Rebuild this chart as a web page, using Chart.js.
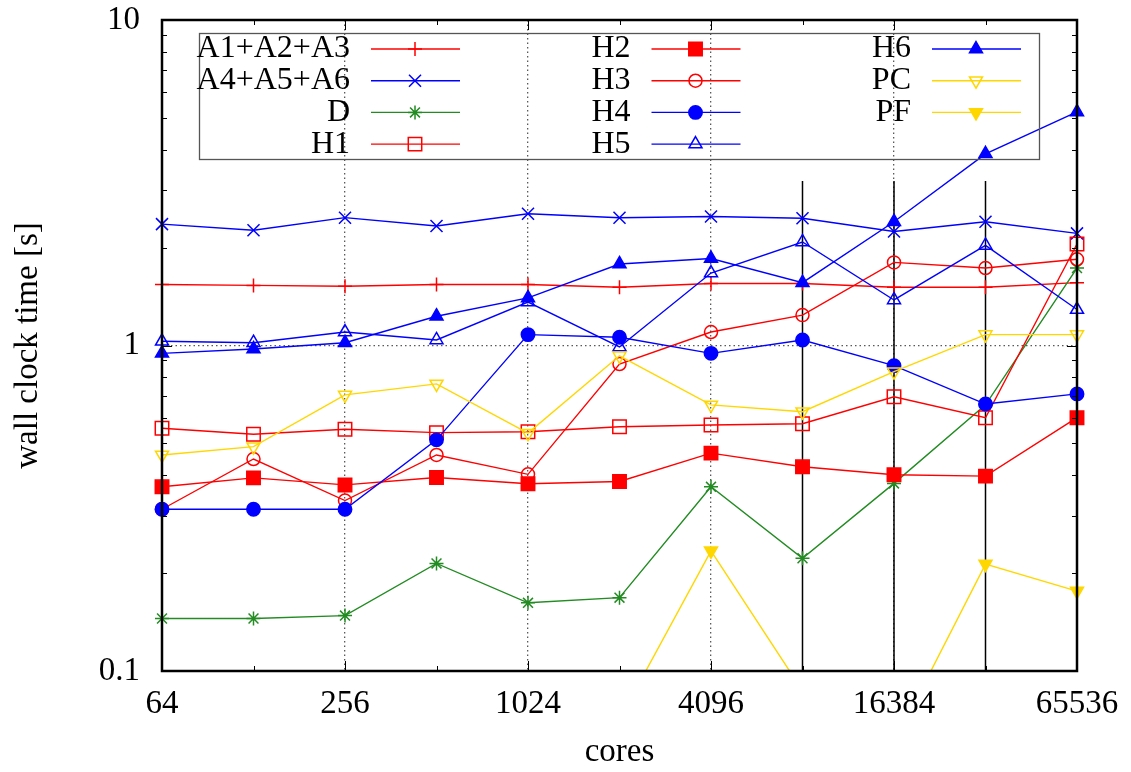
<!DOCTYPE html>
<html>
<head>
<meta charset="utf-8">
<script src="https://cdn.jsdelivr.net/npm/chart.js@4.4.1/dist/chart.umd.min.js"></script>
<style>
html,body{margin:0;padding:0;background:#fff;}
#wrap{width:1131px;height:772px;position:relative;}
</style>
</head>
<body>
<div id="wrap"><canvas id="c" width="1131" height="772"></canvas></div>
<script>
// ---- data ----
const cores = [64, 128, 256, 512, 1024, 2048, 4096, 8192, 16384, 32768, 65536];
const xTickValues = [64, 256, 1024, 4096, 16384, 65536];
const xTickLabels = ['64', '256', '1024', '4096', '16384', '65536'];
const yTickValues = [0.1, 1, 10];
const yTickLabels = ['0.1', '1', '10'];
const yMinorValues = [0.2, 0.3, 0.4, 0.5, 0.6, 0.7, 0.8, 0.9, 2, 3, 4, 5, 6, 7, 8, 9];

const seriesNames = ['A1+A2+A3', 'A4+A5+A6', 'D', 'H1', 'H2', 'H3', 'H4', 'H5', 'H6', 'PC', 'PF'];
const A1A2A3 = [1.54, 1.53, 1.52, 1.54, 1.54, 1.51, 1.55, 1.55, 1.51, 1.51, 1.56];
const A4A5A6 = [2.36, 2.26, 2.47, 2.33, 2.54, 2.47, 2.49, 2.46, 2.24, 2.40, 2.21];
const D  = [0.145, 0.145, 0.148, 0.214, 0.162, 0.168, 0.368, 0.222, 0.377, 0.657, 1.73];
const H1 = [0.557, 0.534, 0.553, 0.540, 0.543, 0.563, 0.570, 0.575, 0.696, 0.600, 2.05];
const H2 = [0.368, 0.392, 0.373, 0.393, 0.376, 0.382, 0.467, 0.424, 0.401, 0.397, 0.600];
const H3 = [0.314, 0.448, 0.334, 0.461, 0.402, 0.877, 1.10, 1.24, 1.80, 1.73, 1.84];
const H4 = [0.314, 0.314, 0.314, 0.513, 1.08, 1.06, 0.946, 1.04, 0.867, 0.661, 0.710];
const H5 = [1.03, 1.02, 1.10, 1.04, 1.36, 0.99, 1.67, 2.08, 1.38, 2.03, 1.29];
const H6 = [0.946, 0.976, 1.02, 1.23, 1.40, 1.78, 1.85, 1.56, 2.40, 3.88, 5.22];
const PC = [0.461, 0.489, 0.705, 0.762, 0.538, 0.93, 0.657, 0.626, 0.831, 1.08, 1.08];
const PF = [null, null, null, null, null, 0.071, 0.234, 0.087, 0.060, 0.213, 0.176];
const seriesValues = [A1A2A3, A4A5A6, D, H1, H2, H3, H4, H5, H6, PC, PF];

// vertical black lines
const vLineX = [8192, 16384, 32768, 65536];
const vLineTop = 3.2;
const vLineBottom = 0.1;

// ---- styles ----
const RED = '#ff0000', BLUE = '#0000ff', GREEN = '#228B22', GOLD = '#ffd700';
const NONE = 'rgba(0,0,0,0)';
const styles = [
  {c: RED,   ps: 'cross',    r: 7,   fill: false, rot: 0},
  {c: BLUE,  ps: 'crossRot', r: 8.5, fill: false, rot: 0},
  {c: GREEN, ps: 'star',     r: 7,   fill: false, rot: 0},
  {c: RED,   ps: 'rect',     r: 9.5, fill: false, rot: 0},
  {c: RED,   ps: 'rect',     r: 9.5, fill: true,  rot: 0},
  {c: RED,   ps: 'circle',   r: 6.5, fill: false, rot: 0},
  {c: BLUE,  ps: 'circle',   r: 6.7, fill: true,  rot: 0},
  {c: BLUE,  ps: 'triangle', r: 7.5, fill: false, rot: 0},
  {c: BLUE,  ps: 'triangle', r: 7.5, fill: true,  rot: 0},
  {c: GOLD,  ps: 'triangle', r: 7.5, fill: false, rot: 180},
  {c: GOLD,  ps: 'triangle', r: 7.5, fill: true,  rot: 180}
];
const FONT = "'Liberation Serif', 'Times New Roman', serif";
const N = seriesNames.length;
const CLIP = {left: 14, right: 14, top: 14, bottom: 0};

const datasets = seriesNames.map((name, i) => {
  const s = styles[i];
  return {
    label: name,
    data: cores.map((x, k) => ({x: x, y: seriesValues[i][k]})),
    borderColor: s.c,
    backgroundColor: s.fill ? s.c : NONE,
    borderWidth: 1.4,
    pointStyle: s.ps,
    pointRadius: s.r,
    pointHoverRadius: s.r,
    pointRotation: s.rot,
    pointBorderColor: s.c,
    pointBackgroundColor: s.fill ? s.c : NONE,
    pointBorderWidth: 1.5,
    tension: 0,
    spanGaps: false,
    clip: CLIP,
    order: N - i
  };
});

const vData = [];
vLineX.forEach(x => { vData.push({x: x, y: vLineTop}); vData.push({x: x, y: vLineBottom}); vData.push({x: x, y: null}); });
datasets.push({
  label: '_vlines',
  data: vData,
  borderColor: '#000',
  borderWidth: 1.5,
  pointRadius: 0,
  spanGaps: false,
  clip: 0,
  order: N + 5
});

// ---- plugins ----
const framePlugin = {
  id: 'frame',
  afterDraw(chart) {
    const ctx = chart.ctx, a = chart.chartArea;
    const xs = chart.scales.x, ys = chart.scales.y;
    ctx.save();
    ctx.strokeStyle = '#000';
    ctx.lineWidth = 1;
    ctx.beginPath();
    cores.forEach(v => {
      const px = Math.round(xs.getPixelForValue(v)) + 0.5;
      const len = xTickValues.includes(v) ? 10 : 5;
      ctx.moveTo(px, a.bottom); ctx.lineTo(px, a.bottom - len);
      ctx.moveTo(px, a.top); ctx.lineTo(px, a.top + len);
    });
    yTickValues.concat(yMinorValues).forEach(v => {
      const py = Math.round(ys.getPixelForValue(v)) + 0.5;
      const len = yTickValues.includes(v) ? 10 : 5;
      ctx.moveTo(a.left, py); ctx.lineTo(a.left + len, py);
      ctx.moveTo(a.right, py); ctx.lineTo(a.right - len, py);
    });
    ctx.stroke();
    ctx.lineWidth = 2.5;
    ctx.strokeRect(a.left, a.top, a.right - a.left, a.bottom - a.top);
    ctx.restore();
  }
};

const keyPlugin = {
  id: 'key',
  afterDatasetsDraw(chart) {
    const ctx = chart.ctx;
    ctx.save();
    ctx.strokeStyle = '#555';
    ctx.lineWidth = 1.3;
    ctx.strokeRect(199.5, 33.5, 840, 126);
    const rows = 4, rowY0 = 49, rowStep = 31.7;
    const colTextRight = [350, 630.5, 911];
    ctx.font = '32px ' + FONT;
    ctx.textAlign = 'right';
    ctx.textBaseline = 'middle';
    seriesNames.forEach((name, i) => {
      const col = Math.floor(i / rows), row = i % rows;
      const tx = colTextRight[col], ty = rowY0 + row * rowStep;
      const s = styles[i];
      ctx.fillStyle = '#000';
      ctx.fillText(name, tx, ty);
      ctx.strokeStyle = s.c;
      ctx.lineWidth = 1.4;
      ctx.beginPath();
      ctx.moveTo(tx + 21, ty); ctx.lineTo(tx + 110, ty);
      ctx.stroke();
      ctx.fillStyle = s.fill ? s.c : NONE;
      ctx.lineWidth = 1.5;
      Chart.helpers.drawPoint(ctx, {pointStyle: s.ps, radius: s.r, rotation: s.rot, borderWidth: 1.5}, tx + 65, ty);
    });
    ctx.restore();
  }
};

const gridColor = 'rgba(60,60,60,0.85)';

new Chart(document.getElementById('c'), {
  type: 'line',
  data: {datasets: datasets},
  options: {
    responsive: false,
    animation: false,
    devicePixelRatio: 1,
    layout: {padding: {top: 20, right: 54, left: 0, bottom: 0}},
    plugins: {legend: {display: false}, tooltip: {enabled: false}},
    scales: {
      x: {
        type: 'logarithmic',
        min: 64, max: 65536,
        afterBuildTicks: (s) => { s.ticks = cores.map(v => ({value: v})); },
        afterFit: (s) => { s.height = 101; s.paddingLeft = 0; s.paddingRight = 0; },
        ticks: {
          autoSkip: false, maxRotation: 0, minRotation: 0, padding: 14,
          color: '#000', font: {family: FONT, size: 33},
          callback: (v) => { const k = xTickValues.indexOf(v); return k >= 0 ? xTickLabels[k] : ''; }
        },
        grid: {
          drawTicks: false, lineWidth: 1.3,
          color: (c) => {
            const v = c.tick && c.tick.value;
            return (xTickValues.includes(v) && v !== 64 && v !== 65536) ? gridColor : NONE;
          }
        },
        border: {display: false, dash: [1.5, 3]},
        title: {display: true, text: 'cores', color: '#000', font: {family: FONT, size: 33}, padding: {top: 0, bottom: 0}}
      },
      y: {
        type: 'logarithmic',
        min: 0.1, max: 10,
        afterBuildTicks: (s) => { s.ticks = yTickValues.concat(yMinorValues).sort((a, b) => a - b).map(v => ({value: v})); },
        afterFit: (s) => { s.width = 162; s.paddingTop = 0; s.paddingBottom = 0; },
        ticks: {
          autoSkip: false, padding: 22,
          color: '#000', font: {family: FONT, size: 33},
          callback: (v) => { const k = yTickValues.indexOf(v); return k >= 0 ? yTickLabels[k] : ''; }
        },
        grid: {
          drawTicks: false, lineWidth: 1.3,
          color: (c) => (c.tick && c.tick.value === 1) ? gridColor : NONE
        },
        border: {display: false, dash: [1.5, 3]},
        title: {display: true, text: 'wall clock time [s]', color: '#000', font: {family: FONT, size: 33}, padding: {top: 9, bottom: 0}}
      }
    }
  },
  plugins: [framePlugin, keyPlugin]
});
</script>
</body>
</html>
